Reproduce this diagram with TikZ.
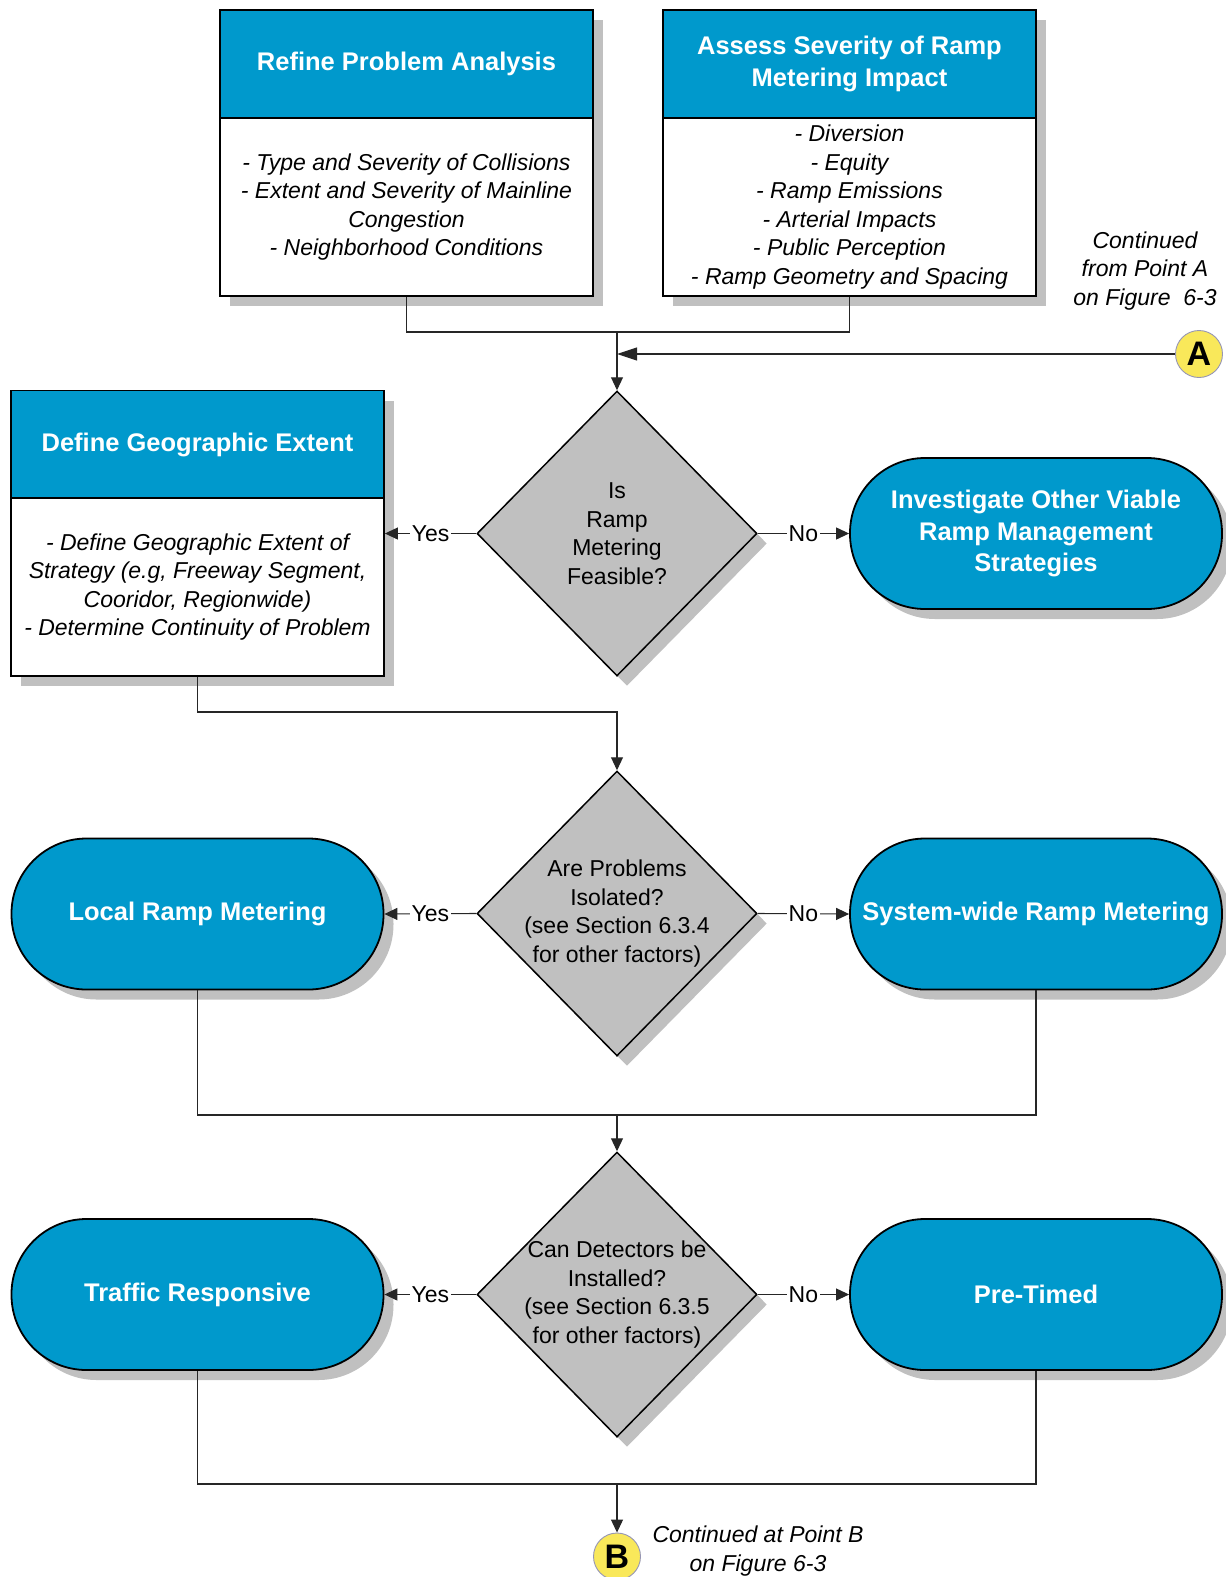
\documentclass[tikz,border=0pt]{standalone}
\usepackage{fontspec}
\setmainfont{Liberation Sans}
\usetikzlibrary{shapes.geometric, shadows, arrows.meta, calc}
\definecolor{hdrblue}{RGB}{0,153,204}
\definecolor{shadegray}{RGB}{192,192,192}
\definecolor{decgray}{RGB}{192,192,192}
\definecolor{connyellow}{RGB}{249,232,90}
\definecolor{ringgray}{RGB}{150,150,180}

\begin{document}
\begin{tikzpicture}[x=1pt, y=-1pt,
  shade/.style={drop shadow={shadow xshift=10pt, shadow yshift=-10pt, fill=shadegray, opacity=1}},
  titlebox/.style={rectangle, draw, line width=1.8pt, fill=hdrblue, text=white, align=center,
    inner sep=0pt, minimum width=373pt, minimum height=108pt,
    font=\bfseries\fontsize{25.5}{32}\selectfont, shade},
  bodybox/.style={rectangle, draw, line width=1.8pt, fill=white, align=center,
    inner sep=0pt, minimum width=373pt, minimum height=178pt,
    font=\itshape\fontsize{23}{28.6}\selectfont, shade},
  terminal/.style={rectangle, rounded corners=75pt, draw, line width=1.8pt, fill=hdrblue,
    text=white, align=center, inner sep=0pt, minimum width=372pt, minimum height=151pt,
    font=\bfseries\fontsize{25.5}{31.5}\selectfont, shade},
  decision/.style={diamond, draw, line width=1.5pt, fill=decgray, inner sep=0pt,
    minimum width=280pt, minimum height=285pt, shade},
  question/.style={align=center, inner sep=0pt, font=\fontsize{23}{28.5}\selectfont},
  connector/.style={circle, draw=ringgray, line width=0.9pt, fill=connyellow, inner sep=0pt,
    minimum size=47pt, font=\bfseries\fontsize{34}{34}\selectfont},
  note/.style={align=center, font=\itshape\fontsize{23}{28.8}\selectfont},
  flow/.style={draw=black!85, line width=1.1pt},
  tip/.style={-{Triangle[length=13pt, width=12pt]}},
  longtip/.style={-{Triangle[length=20pt, width=13pt]}},
  lbl/.style={fill=white, inner sep=1.5pt, font=\fontsize{23}{23}\selectfont}
]
\useasboundingbox (0,0) rectangle (1226,1577);

% top analysis panels
\node[titlebox] (refineT) at (406.5,64) {Refine Problem Analysis};
\node[bodybox] (refineB) at (406.5,207) {- Type and Severity of Collisions\\- Extent and Severity of Mainline\\Congestion\\- Neighborhood Conditions};

\node[titlebox] (assessT) at (849.5,64) {Assess Severity of Ramp\\Metering Impact};
\node[bodybox] (assessB) at (849.5,207) {- Diversion\\- Equity\\- Ramp Emissions\\- Arterial Impacts\\- Public Perception\\- Ramp Geometry and Spacing};

% entry point A
\node[connector] (ptA) at (1199,354) {A};
\node[note] (noteA) at (1145,271) {Continued\\from Point A\\on Figure\ \ 6-3};

% decision 1
\node[decision] (d1) at (617,533.5) {};
\node[question] (q1) at (d1.center) {Is\\Ramp\\Metering\\Feasible?};
\node[titlebox] (geoT) at (197.5,444.5) {Define Geographic Extent};
\node[bodybox] (geoB) at (197.5,587) {- Define Geographic Extent of\\Strategy (e.g, Freeway Segment,\\Cooridor, Regionwide)\\- Determine Continuity of Problem};
\node[terminal] (invest) at (1036,533.5) {Investigate Other Viable\\Ramp Management\\Strategies};

% decision 2
\node[decision] (d2) at (617,913.5) {};
\node[question] (q2) at (d2.center) {Are Problems\\Isolated?\\(see Section 6.3.4\\for other factors)};
\node[terminal] (local) at (197.5,914) {Local Ramp Metering};
\node[terminal] (system) at (1036,914) {System-wide Ramp Metering};

% decision 3
\node[decision] (d3) at (617,1294.5) {};
\node[question] (q3) at (d3.center) {Can Detectors be\\Installed?\\(see Section 6.3.5\\for other factors)};
\node[terminal] (traffic) at (197.5,1294.5) {Traffic Responsive};
\node[terminal] (pretimed) at (1036,1294.5) {Pre-Timed};

% exit point B
\node[connector] (ptB) at (617,1556.5) {B};
\node[note] (noteB) at (758,1551) {Continued at Point B\\on Figure 6-3};

% junctions
\coordinate (j1) at (617,332);
\coordinate (j2) at (617,712);
\coordinate (j3) at (617,1115);
\coordinate (j4) at (617,1484);

% connectors
\draw[flow] (refineB.south) |- (j1) -| (assessB.south);
\draw[flow, tip] (j1) -- (d1.north);
\draw[flow, longtip] (ptA.west) -- (ptA.west -| j1);
\draw[flow, tip] (d1.west) -- node[lbl] {Yes} (d1.west -| geoB.east);
\draw[flow, tip] (d1.east) -- node[lbl] {No} (invest.west);

\draw[flow, tip] (geoB.south) |- (j2) -- (d2.north);
\draw[flow, tip] (d2.west) -- node[lbl] {Yes} (local.east);
\draw[flow, tip] (d2.east) -- node[lbl] {No} (system.west);

\draw[flow] (local.south) |- (j3) -| (system.south);
\draw[flow, tip] (j3) -- (d3.north);
\draw[flow, tip] (d3.west) -- node[lbl] {Yes} (traffic.east);
\draw[flow, tip] (d3.east) -- node[lbl] {No} (pretimed.west);

\draw[flow] (traffic.south) |- (j4) -| (pretimed.south);
\draw[flow, tip] (j4) -- (ptB.north);
\end{tikzpicture}
\end{document}
